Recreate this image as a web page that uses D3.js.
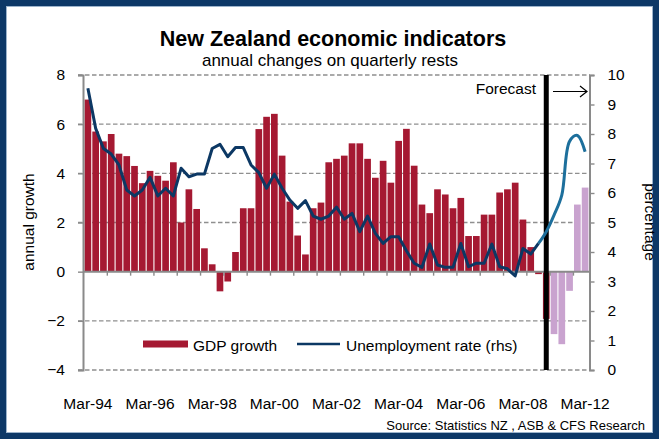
<!DOCTYPE html>
<html>
<head>
<meta charset="utf-8">
<script src="https://cdn.jsdelivr.net/npm/d3@7"></script>
<style>
body { margin: 0; background: #fff; }
text { font-family: Arial, "Liberation Sans", sans-serif; fill: #000; }
</style>
</head>
<body>
<div id="chart"></div>
<script>
var width = 659, height = 439;

// quarterly categories Mar-94 .. Mar-10
var quarters = [];
var months = ["Mar", "Jun", "Sep", "Dec"];
for (var yr = 1994; yr <= 2010; yr++) {
    for (var m = 0; m < 4; m++) {
        if (yr == 2010 && m > 0) break;
        quarters.push(months[m] + "-" + String(yr).slice(2));
    }
}

// label every 8th quarter (last one reads Mar-12 in the original)
var xTickLabels = ["Mar-94", "Mar-96", "Mar-98", "Mar-00", "Mar-02", "Mar-04", "Mar-06", "Mar-08", "Mar-12"];

// GDP growth, annual % (actuals Mar-94 .. Dec-08 + Mar-09)
var gdpActual = [7.0, 5.7, 5.3, 5.6, 4.8, 4.7, 4.3, 3.6, 4.1, 3.9, 3.7, 4.45,
    2.0, 3.35, 2.55, 0.95, 0.3, -0.8, -0.4, 0.8, 2.58, 2.58, 5.8, 6.3,
    6.42, 4.72, 2.85, 1.47, 0.7, 2.58, 2.81, 4.45, 4.59, 4.72, 5.22, 5.22,
    4.59, 3.82, 4.51, 3.62, 5.32, 5.81, 4.31, 2.73, 2.38, 3.35, 3.14, 2.58,
    3.0, 1.45, 1.45, 2.32, 2.32, 3.22, 3.35, 3.62, 2.12, 1.0, -0.1, -1.92];
// GDP growth forecast
var gdpForecast = [-2.54, -2.95, -0.78, 2.73, 3.42];

// unemployment rate % (rhs)
var unempActual = [9.55, 8.19, 7.51, 7.32, 6.95, 6.1, 5.9, 6.1, 6.53, 5.9, 6.16, 5.9,
    6.84, 6.55, 6.64, 6.64, 7.51, 7.65, 7.23, 7.54, 7.54, 6.95, 6.69, 6.16,
    6.64, 6.16, 5.76, 5.48, 5.74, 5.22, 5.11, 5.22, 5.52, 5.11, 5.31, 4.69,
    5.22, 4.63, 4.29, 4.52, 4.52, 4.04, 3.62, 3.48, 4.27, 3.56, 3.48, 3.48,
    4.29, 3.5, 3.62, 3.62, 4.27, 3.5, 3.43, 3.19, 4.12, 3.93, 4.29];
// unemployment forecast, starting from last actual quarter
var unempForecast = [4.29, 4.69, 5.25, 5.93, 7.75, 7.95, 7.4];

var leftTicks = [-4, -2, 0, 2, 4, 6, 8];
var rightTicks = [0, 1, 2, 3, 4, 5, 6, 7, 8, 9, 10];

var gdpData = gdpActual.map(function (v, i) { return { q: quarters[i], v: v, f: false }; })
    .concat(gdpForecast.map(function (v, i) { return { q: quarters[gdpActual.length + i], v: v, f: true }; }));
var unempA = unempActual.map(function (v, i) { return { q: quarters[i], v: v }; });
var fStart = unempActual.length - 1;
var unempF = unempForecast.map(function (v, i) { return { q: quarters[fStart + i], v: v }; });

var plot = { left: 83, right: 590, top: 75, bottom: 370 };

var svg = d3.select("#chart").append("svg").attr("width", width).attr("height", height);

// frame
svg.append("rect").attr("x", 3).attr("y", 3).attr("width", width - 6).attr("height", height - 6)
    .attr("fill", "#fff").attr("stroke", "#0d3867").attr("stroke-width", 6);
svg.append("rect").attr("x", 6.5).attr("y", 6.5).attr("width", width - 13).attr("height", height - 13)
    .attr("fill", "none").attr("stroke", "#9db4cc").attr("stroke-width", 1);

var x = d3.scaleBand().domain(quarters).range([plot.left, plot.right]).paddingInner(0.14).paddingOuter(0.2);
var yL = d3.scaleLinear().domain([-4, 8]).range([plot.bottom, plot.top]);
var yR = d3.scaleLinear().domain([0, 10]).range([plot.bottom, plot.top]);
var bw = x.bandwidth();

// titles
svg.append("text").attr("x", 333).attr("y", 46).attr("text-anchor", "middle")
    .style("font-size", "21.5px").style("font-weight", "bold").text("New Zealand economic indicators");
svg.append("text").attr("x", 330).attr("y", 66).attr("text-anchor", "middle")
    .style("font-size", "17px").text("annual changes on quarterly rests");

// gridlines
svg.append("g").selectAll("line")
    .data(leftTicks.filter(function (d) { return d != 0; }))
    .enter().append("line")
    .attr("x1", plot.left - 5).attr("x2", plot.right)
    .attr("y1", function (d) { return yL(d); }).attr("y2", function (d) { return yL(d); })
    .attr("stroke", "#8f8f8f").attr("stroke-width", 1.4).attr("stroke-dasharray", "4.5,2.5");

// bars
svg.append("g").selectAll("rect")
    .data(gdpData)
    .enter().append("rect")
    .attr("x", function (d) { return x(d.q); })
    .attr("width", bw)
    .attr("y", function (d) { return yL(Math.max(0, d.v)); })
    .attr("height", function (d) { return Math.abs(yL(d.v) - yL(0)); })
    .attr("fill", function (d) { return d.f ? "#c9a3cf" : "#a51932"; });

// left axis
var axL = svg.append("g").attr("transform", "translate(" + plot.left + ",0)")
    .call(d3.axisLeft(yL).tickValues(leftTicks).tickSize(5).tickPadding(13));
axL.select(".domain").attr("stroke", "#8a8a8a").attr("stroke-width", 2);
axL.selectAll(".tick line").attr("stroke", "#8a8a8a").attr("stroke-width", 1.4);
axL.selectAll("text").style("font-size", "15.5px").attr("fill", "#000");

// right axis
var axR = svg.append("g").attr("transform", "translate(" + (plot.right - 0.5) + ",0)")
    .call(d3.axisRight(yR).tickValues(rightTicks).tickSize(5).tickPadding(13));
axR.select(".domain").attr("stroke", "#8a8a8a").attr("stroke-width", 2);
axR.selectAll(".tick line").attr("stroke", "#8a8a8a").attr("stroke-width", 1.4);
axR.selectAll("text").style("font-size", "15.5px").attr("fill", "#000");

// category axis through zero
var step = x.step();
svg.append("line").attr("x1", plot.left).attr("x2", plot.right)
    .attr("y1", yL(0)).attr("y2", yL(0)).attr("stroke", "#8a8a8a").attr("stroke-width", 2);
svg.append("g").selectAll("line")
    .data(quarters.filter(function (q, i) { return i > 0 && i % 3 == 0; }))
    .enter().append("line")
    .attr("x1", function (d) { return x(d) - (step - bw) / 2; })
    .attr("x2", function (d) { return x(d) - (step - bw) / 2; })
    .attr("y1", yL(0)).attr("y2", yL(0) + 4)
    .attr("stroke", "#8a8a8a").attr("stroke-width", 1.4);

// category labels at the bottom
var labelQ = xTickLabels.map(function (l, i) { return quarters[i * 8]; });
var axX = svg.append("g").attr("transform", "translate(0," + plot.bottom + ")")
    .call(d3.axisBottom(x).tickValues(labelQ).tickSize(0).tickPadding(28)
        .tickFormat(function (d, i) { return xTickLabels[i]; }));
axX.select(".domain").remove();
axX.selectAll("text").style("font-size", "15.5px").attr("fill", "#000");

// forecast divider
var fx = x(quarters[gdpActual.length - 1]) + bw / 2;
svg.append("line").attr("x1", fx).attr("x2", fx).attr("y1", plot.top).attr("y2", plot.bottom)
    .attr("stroke", "#000").attr("stroke-width", 5);
svg.append("text").attr("x", 536).attr("y", 94).attr("text-anchor", "end")
    .style("font-size", "15.5px").text("Forecast");
svg.append("path").attr("d", "M553,91.5H587M580,86L587,91.5L580,97")
    .attr("fill", "none").attr("stroke", "#000").attr("stroke-width", 1.2);

// unemployment lines
var lineA = d3.line()
    .x(function (d) { return x(d.q) + bw / 2; })
    .y(function (d) { return yR(d.v); });
var lineF = d3.line()
    .x(function (d) { return x(d.q) + bw / 2; })
    .y(function (d) { return yR(d.v); })
    .curve(d3.curveCatmullRom.alpha(0.5));

svg.append("path").attr("d", lineF(unempF)).attr("fill", "none")
    .attr("stroke", "#1d6f9c").attr("stroke-width", 3).attr("stroke-linejoin", "round");
svg.append("path").attr("d", lineA(unempA)).attr("fill", "none")
    .attr("stroke", "#0c3864").attr("stroke-width", 3).attr("stroke-linejoin", "round");

// legend
svg.append("rect").attr("x", 143).attr("y", 340.5).attr("width", 45).attr("height", 7).attr("fill", "#a51932");
svg.append("text").attr("x", 193).attr("y", 350.5).style("font-size", "15.5px").text("GDP growth");
svg.append("line").attr("x1", 297).attr("x2", 340).attr("y1", 344).attr("y2", 344)
    .attr("stroke", "#0c3864").attr("stroke-width", 2.5);
svg.append("text").attr("x", 346).attr("y", 350.5).style("font-size", "15.5px").text("Unemployment rate (rhs)");

// axis titles
svg.append("text").attr("transform", "translate(34,222) rotate(-90)").attr("text-anchor", "middle")
    .style("font-size", "15.5px").text("annual growth");
svg.append("text").attr("transform", "translate(645,222) rotate(90)").attr("text-anchor", "middle")
    .style("font-size", "15.5px").text("percentage");

// source
svg.append("text").attr("x", 645).attr("y", 430).attr("text-anchor", "end")
    .style("font-size", "13px").text("Source: Statistics NZ , ASB & CFS Research");
</script>
</body>
</html>
